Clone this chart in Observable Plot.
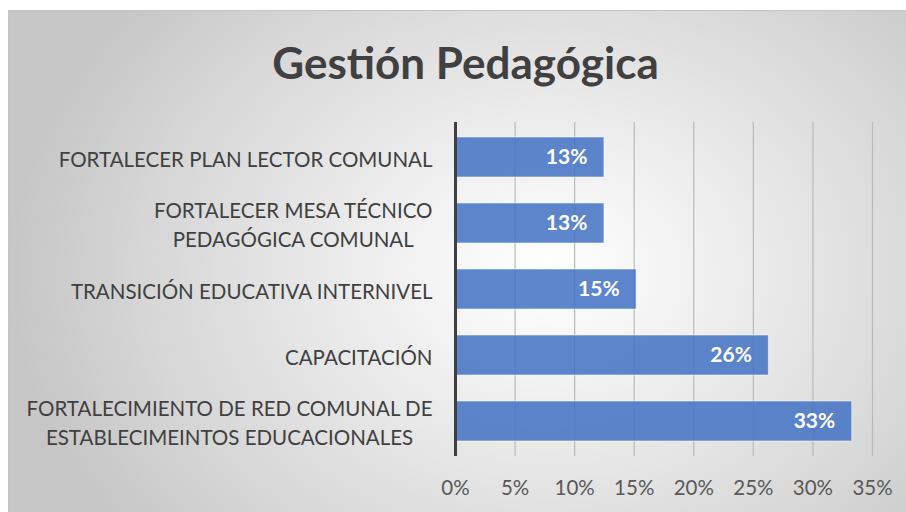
<!DOCTYPE html>
<html><head><meta charset="utf-8">
<script src="https://cdn.jsdelivr.net/npm/d3@7"></script>
<script src="https://cdn.jsdelivr.net/npm/@observablehq/plot@0.6"></script>
<style>
html,body{margin:0;padding:0;background:#fff;}
#chart{position:absolute;left:8px;top:10px;width:898px;height:502px;overflow:hidden;
  background:radial-gradient(ellipse 60% 85% at 60% 52%, #ffffff 0%, #f4f4f4 22%, #d6d6d6 75%, #c6c6c6 100%);
  border-top:1px solid #c4c4c4;border-left:1px solid #c4c4c4;box-sizing:border-box;}
#title{height:99px;box-sizing:border-box;padding-top:29px;padding-left:16px;text-align:center;
  font-family:Lato,"Open Sans",sans-serif;font-weight:bold;font-size:44px;line-height:44px;color:#404040;}
#plot svg{display:block;}
</style></head>
<body>
<div id="chart"><div id="title">Gestión Pedagógica</div><div id="plot"></div></div>
<script>
const categories = [
  "FORTALECER PLAN LECTOR COMUNAL",
  "FORTALECER MESA TÉCNICO\nPEDAGÓGICA COMUNAL",
  "TRANSICIÓN EDUCATIVA INTERNIVEL",
  "CAPACITACIÓN",
  "FORTALECIMIENTO DE RED COMUNAL DE\nESTABLECIMEINTOS EDUCACIONALES"
];
const values = [12.5, 12.5, 15.2, 26.3, 33.3];
const ticks = [0, 5, 10, 15, 20, 25, 30, 35];

const data = categories.map((c, i) => ({cat: c, value: values[i]}));
const font = "Lato, 'Open Sans', sans-serif";

const chart = Plot.plot({
  width: 897, height: 402,
  marginLeft: 446, marginRight: 34, marginTop: 12, marginBottom: 56,
  style: {background: "transparent", fontFamily: font, fontSize: "20.5px", color: "#595959", overflow: "visible"},
  x: {domain: [0, 35], ticks: ticks, tickFormat: d => d + "%", tickSize: 0, tickPadding: 24, label: null},
  y: {domain: categories, paddingInner: 0.4, paddingOuter: 0.2, axis: null},
  marks: [
    Plot.ruleX(ticks.filter(t => t > 0), {stroke: "#b9b9b9", strokeWidth: 1.2}),
    Plot.barX(data, {x: "value", y: "cat", fill: "#4472C4", fillOpacity: 0.86, stroke: "#ffffff", strokeOpacity: 0.55, strokeWidth: 1}),
    Plot.ruleX([0], {stroke: "#3f3f3f", strokeWidth: 3}),
    Plot.text(data, {x: "value", y: "cat", text: d => Math.round(d.value) + "%", textAnchor: "end", dx: -17,
      fill: "#ffffff", fontWeight: "bold", fontSize: 21}),
    Plot.text(categories, {x: 0, y: d => d, text: d => d, textAnchor: "end", dx: -23, lineHeight: 1.42,
      fill: "#404040", fontSize: 20.5, className: "ylab"})
  ]
});
document.getElementById("plot").appendChild(chart);

// center multi-line category labels on their widest line (as in the original)
chart.querySelectorAll("g.ylab text").forEach(t => {
  const spans = t.querySelectorAll("tspan");
  if (spans.length > 1) {
    let maxW = 0;
    spans.forEach(s => { maxW = Math.max(maxW, s.getComputedTextLength()); });
    t.setAttribute("text-anchor", "middle");
    spans.forEach(s => s.setAttribute("x", -maxW / 2));
  }
});
</script>
</body></html>
